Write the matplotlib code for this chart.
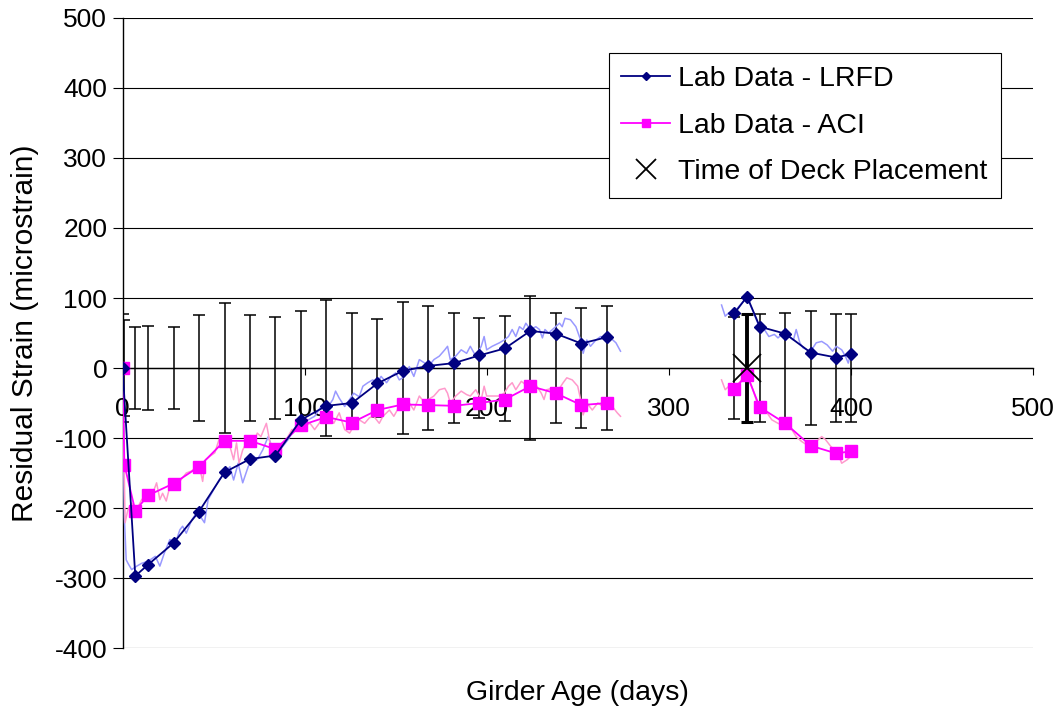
import numpy as np
import matplotlib.pyplot as plt

plt.rcParams['font.family'] = ['Liberation Sans', 'DejaVu Sans']
plt.rcParams['axes.unicode_minus'] = False

# averaged lab readings (nan breaks the line across the gap before the deck)
lrfd_days = [0, 7, 14, 28, 42, 56, 70, 84, 98, 112, 126, 140, 154, 168, 182, 196, 210, 224, 238, 252, 266,
             np.nan, 336, 343, 350, 364, 378, 392, 400]
lrfd_vals = [0, -297, -281, -250, -205, -149, -130, -125, -74, -54, -50, -22, -4, 3, 7, 18, 28, 53, 49, 35, 44,
             np.nan, 78, 102, 59, 49, 22, 15, 20]

aci_days = [0, 1, 7, 14, 28, 42, 56, 70, 84, 98, 112, 126, 140, 154, 168, 182, 196, 210, 224, 238, 252, 266,
            np.nan, 336, 343, 350, 364, 378, 392, 400]
aci_vals = [0, -138, -204, -182, -165, -141, -104, -104, -116, -82, -70, -78, -60, -52, -53, -54, -50, -45, -26, -36, -53, -50,
            np.nan, -30, -10, -56, -79, -111, -122, -119]

# raw gauge readings
lrfd_raw_days = [0, 1, 2, 3, 5, 7.8, 10.5, 14, 18, 20.5, 23, 26, 29, 31.5, 33, 35, 38, 40.6, 43, 45, 47, 50, 53, 56,
                 59, 61, 63.5, 66, 69, 72, 74, 77, 80, 82, 84.5, 88, 91, 94.5, 98, 102, 105.5, 109, 113, 115.5, 117,
                 119, 122, 124.7, 127, 130, 132, 134.7, 137.4, 140, 142, 145, 147.5, 150, 152, 155, 157.5, 160, 163,
                 166, 168, 171, 174, 177, 178.5, 180, 183, 186, 189, 191, 194, 197, 198.6, 200, 203, 207, 209.6, 212,
                 214, 216, 218, 220, 221.5, 224, 227, 229, 230.6, 232, 234, 237, 240, 241.5, 243, 246, 249, 251.6, 253,
                 255, 257, 260, 262.6, 265, 268, 271, 273.5,
                 np.nan, 329, 331, 333, 335.6, 338.5, 341, 343, 346.6, 349.6, 352.5, 355, 358, 360, 363, 366, 368.5,
                 370, 372, 373.7, 376, 378, 381, 384, 387, 390, 392, 395, 397, 398.6, 400]
lrfd_raw_vals = [0, -213, -274, -279, -288, -283, -279, -276, -269, -283, -264, -245, -250, -231, -226, -236, -217, -207,
                 -213, -221, -188, -174, -160, -150, -141, -160, -136, -164, -141, -126, -131, -117, -98, -112, -121,
                 -112, -102, -86, -79, -74, -69, -55, -55, -45, -33, -43, -55, -45, -36, -41, -26, -21, -17, -21, -12,
                 -21, -12, -7, -17, -12, 2, -12, 12, 7, 2, 12, 17, 26, 31, 12, 17, 26, 21, 31, 17, 31, 45, 26, 31, 36,
                 40, 45, 55, 45, 59, 55, 64, 55, 59, 55, 43, 55, 50, 57, 64, 59, 71, 69, 59, 40, 21, 40, 31, 40, 45,
                 43, 43, 36, 24,
                 np.nan, 90, 74, 79, 78, 88, 95, 102, 79, 59, 55, 45, 48, 43, 50, 45, 40, 55, 36, 29, 26, 24, 36, 38,
                 33, 24, 31, 26, 17, 7, 21]

aci_raw_days = [0, 1.4, 3, 5, 7.8, 10.5, 13, 17, 18.7, 20.5, 22, 24, 26, 29, 32, 35, 38, 40.6, 43, 44, 45.5, 48, 50.7,
                53, 56, 59, 61, 62.6, 64, 66, 69, 72, 74, 76, 79, 81, 83.6, 87, 90, 93, 96, 100, 103, 105.5, 108, 111,
                113.5, 116, 119, 122, 124.7, 127, 130, 133, 135.6, 138, 141, 143, 146.6, 149, 152, 155, 157.5, 160,
                163, 166, 168, 171, 174, 177, 178.5, 180, 183, 186, 189, 191, 194, 197, 198.6, 200, 203, 207, 209.6,
                212, 214, 216, 219, 221.5, 224, 227, 230, 231.5, 233, 236, 237, 240, 242, 244, 247, 250, 251.6, 253,
                255, 258, 261, 264, 266, 269, 271.7, 273.5,
                np.nan, 329, 331, 333, 335.6, 337.5, 340, 343, 345.6, 348.6, 351, 354, 356.6, 360, 362, 365, 367.6,
                370, 373, 376, 378, 381, 384, 386, 389, 391, 393.5, 395, 398, 400]
aci_raw_vals = [0, -221, -202, -193, -202, -188, -183, -176, -164, -188, -179, -190, -169, -164, -160, -150, -147, -141,
                -150, -162, -131, -126, -121, -102, -102, -112, -131, -107, -136, -117, -102, -107, -93, -98, -79, -107,
                -117, -112, -102, -88, -88, -83, -79, -88, -79, -64, -69, -79, -64, -88, -93, -83, -74, -79, -71, -69,
                -79, -69, -60, -69, -55, -60, -50, -60, -40, -50, -45, -40, -31, -29, -36, -50, -40, -33, -38, -40,
                -31, -45, -26, -40, -40, -40, -36, -26, -21, -31, -19, -24, -31, -24, -36, -45, -31, -29, -36, -29,
                -21, -14, -17, -26, -45, -67, -50, -60, -50, -55, -50, -55, -64, -69,
                np.nan, -17, -31, -26, -31, -24, -17, -10, -26, -50, -60, -64, -74, -79, -81, -79, -88, -98, -105,
                -110, -112, -105, -98, -102, -112, -117, -126, -136, -131, -126]

# scatter (+/-) of the readings, shown about zero
err_days = [0, 1, 7, 14, 28, 42, 56, 70, 84, 98, 112, 126, 140, 154, 168, 182, 196, 210, 224, 238, 252, 266,
            336, 350, 364, 378, 392, 400]
err_half = [77, 69, 59, 60, 59, 76, 93, 76, 73, 82, 97, 78, 70, 94, 88, 79, 71, 75, 103, 78, 86, 88,
            73, 77, 79, 81, 77, 77]

deck_day = [343]
deck_val = [0]
deck_err = [77]

fig = plt.figure(figsize=(10.61, 7.08), dpi=100)
ax = fig.add_axes([0.1155, 0.0847, 0.858, 0.8899])

ax.errorbar(err_days, np.zeros(len(err_days)), yerr=err_half, fmt='none', ecolor='black',
            elinewidth=1.1, capsize=4, capthick=1.1, zorder=2)
ax.errorbar(deck_day, deck_val, yerr=deck_err, fmt='none', ecolor='black',
            elinewidth=2.8, capsize=4, capthick=2.2, zorder=2)

ax.plot(lrfd_raw_days, lrfd_raw_vals, color='#9999ff', lw=1.1, zorder=3)
ax.plot(aci_raw_days, aci_raw_vals, color='#ff99cc', lw=1.1, zorder=3)

ax.plot(lrfd_days, lrfd_vals, color='#000080', lw=1.3, marker='D', ms=6.5,
        label='Lab Data - LRFD', zorder=5)
ax.plot(aci_days, aci_vals, color='#ff00ff', lw=1.3, marker='s', ms=8.5,
        label='Lab Data - ACI', zorder=4)
ax.plot(deck_day, deck_val, linestyle='none', marker='x', color='black', ms=20, mew=1.3,
        label='Time of Deck Placement', zorder=6)

ax.set_xlim(0, 500)
ax.set_ylim(-400, 500)
ax.set_xticks(range(0, 501, 100))
ax.set_yticks(range(-400, 501, 100))
ax.yaxis.grid(True, color='black', lw=0.8)
ax.set_axisbelow(True)

# x axis sits on the zero line, no frame on the right/top
ax.spines['bottom'].set_position(('data', 0))
ax.spines['top'].set_visible(False)
ax.spines['right'].set_visible(False)
for s in ['left', 'bottom']:
    ax.spines[s].set_linewidth(1.0)
ax.tick_params(axis='x', direction='out', length=5, pad=16, labelsize=19)
ax.tick_params(axis='y', direction='out', length=7, pad=4, labelsize=19)

ax.set_xlabel('Girder Age (days)', fontsize=20.5)
ax.xaxis.set_label_coords(0.5, -0.05)
ax.set_ylabel('Residual Strain (microstrain)', fontsize=21.5)
ax.yaxis.set_label_coords(-0.092, 0.5)

leg = ax.legend(loc='upper left', bbox_to_anchor=(0.534, 0.944), fontsize=20.5, frameon=True,
                fancybox=False, framealpha=1, edgecolor='black', borderpad=0.45, borderaxespad=0,
                labelspacing=0.72, handlelength=1.7, handletextpad=0.3, markerscale=0.7)
leg.get_frame().set_linewidth(0.8)

plt.savefig('out.png', dpi=100)
